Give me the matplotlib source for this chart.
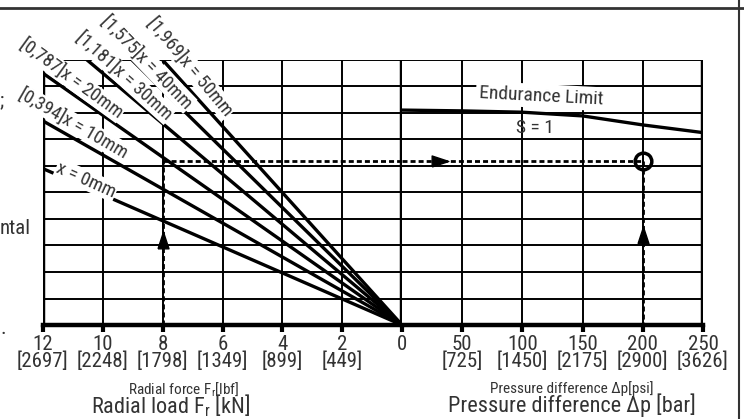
import os
import dataclasses
import matplotlib
matplotlib.use("Agg")
import matplotlib.pyplot as plt
import matplotlib.font_manager as fm
from matplotlib.lines import Line2D

# ---- pick a condensed sans face deterministically ----
def _pick_face():
    for fam in ['Roboto Condensed', 'Liberation Sans Narrow', 'Archivo Narrow', 'Asap Condensed']:
        ents = [e for e in fm.fontManager.ttflist if e.name == fam and e.style == 'normal']
        if not ents:
            continue
        def score(e):
            b = os.path.basename(e.fname).lower()
            s = abs((e.weight if isinstance(e.weight, int) else 400) - 400)
            if '[wght]' in b:
                s -= 80
            elif 'regular' in b:
                s -= 50
            for bad in ('light', 'thin', 'medium', 'bold', 'black', 'semi', 'extra', 'italic'):
                if bad in b:
                    s += 100
            return s
        return sorted(ents, key=score)[0]
    return None

_face = _pick_face()
if _face is not None:
    fm.fontManager.ttflist.append(dataclasses.replace(_face, name='ChartCond'))
    family = 'ChartCond'
else:
    family = 'DejaVu Sans'
plt.rcParams['font.family'] = [family, 'DejaVu Sans']
plt.rcParams['mathtext.fontset'] = 'custom'
plt.rcParams['mathtext.rm'] = family
plt.rcParams['mathtext.it'] = family

# ---- data ----
load_ticks = [12, 10, 8, 6, 4, 2]
load_lbf = ["2697", "2248", "1798", "1349", "899", "449"]
press_ticks = [0, 50, 100, 150, 200, 250]
press_psi = ["", "725", "1450", "2175", "2900", "3626"]

# radial load lines: value on the chart scale at Fr = 12 kN (line through origin)
offsets_mm = ["x = 0mm", "[0,394]x = 10mm", "[0,787]x = 20mm",
              "[1,181]x = 30mm", "[1,575]x = 40mm", "[1,969]x = 50mm"]
value_at_12kN = [5.9, 7.7, 9.5, 11.4, 13.3, 15.0]

# endurance limit curve S = 1
endurance_p = [0, 50, 100, 150, 200, 250]
endurance_v = [8.11, 8.08, 8.03, 7.89, 7.55, 7.26]

# example reading path
example_load = 8
example_level = 6.2
example_pressure = 200

W, H = 744, 419
fig = plt.figure(figsize=(W / 100, H / 100), dpi=100)

def fx(px):
    return px / W

def fy(py):
    return 1 - py / H

top, bot = 60, 325
axL = fig.add_axes([fx(43), fy(bot), (402 - 43) / W, (bot - top) / H])
axR = fig.add_axes([fx(402), fy(bot), (703 - 402) / W, (bot - top) / H])
axL.set_xlim(12, 0)
axR.set_xlim(0, 250)
for ax in (axL, axR):
    ax.set_ylim(0, 10)
    for s in ax.spines.values():
        s.set_visible(False)
    ax.set_yticks([])
    for yv in range(1, 11):
        ax.axhline(yv, color='black', lw=1.4, zorder=1)
    ax.axhline(0, color='black', lw=3.2, zorder=5, clip_on=False)

for xv in [10, 8, 6, 4, 2]:
    axL.axvline(xv, color='black', lw=1.4, zorder=1)
for xv in [50, 100, 150, 200]:
    axR.axvline(xv, color='black', lw=1.4, zorder=1)
axL.axvline(12, color='black', lw=3.2, zorder=5)
axL.axvline(0, color='black', lw=3.2, zorder=5)
axR.axvline(250, color='black', lw=3.2, zorder=5)

tick_color = '#333333'
axL.set_xticks(load_ticks, labels=[f"{a}\n[{b}]" for a, b in zip(load_ticks, load_lbf)])
axR.set_xticks(press_ticks, labels=[f"{a}\n[{b}]" if b else f"{a}\n" for a, b in zip(press_ticks, press_psi)])
for ax in (axL, axR):
    ax.tick_params(axis='x', direction='out', length=5, width=3, color='black',
                   labelsize=15, labelcolor=tick_color, pad=2)
    for lab in ax.get_xticklabels():
        lab.set_linespacing(0.85)

# radial load lines
for v in value_at_12kN:
    axL.plot([0, 12], [0, v], color='black', lw=2.4, zorder=4, solid_capstyle='butt')

# line labels
label_pos = [(10.56, 5.47, -24), (11.0, 7.62, -30), (11.05, 9.3, -36),
             (9.29, 9.40, -42), (8.52, 9.92, -46), (7.09, 9.74, -50)]
for txt, (lx, ly, rot) in zip(offsets_mm, label_pos):
    axL.text(lx, ly, txt, rotation=rot, rotation_mode='anchor', ha='center', va='center',
             fontsize=13.5, color=tick_color, zorder=6, clip_on=False,
             bbox=dict(boxstyle='square,pad=0.05', fc='white', ec='none'))

# endurance limit
axR.plot(endurance_p, endurance_v, color='black', lw=2.4, zorder=4)
axR.text(115.4, 8.64, "Endurance Limit", rotation=-3, ha='center', va='center',
         fontsize=14, color=tick_color, zorder=6,
         bbox=dict(boxstyle='square,pad=0.15', fc='white', ec='none'))
axR.text(110.5, 7.43, "S = 1", ha='center', va='center', fontsize=14, color=tick_color, zorder=6)

# example path
dash = (0, (1.8, 1.1))
axL.plot([example_load, example_load], [0, example_level], color='black', lw=2, ls=dash, zorder=6)
axL.plot([example_load, 0], [example_level, example_level], color='black', lw=2, ls=dash, zorder=6)
axR.plot([0, example_pressure], [example_level, example_level], color='black', lw=2, ls=dash, zorder=6)
axR.plot([example_pressure, example_pressure], [example_level, 0], color='black', lw=2, ls=dash, zorder=6)
up = [(-0.33, -0.5), (0.33, -0.5), (0, 0.5), (-0.33, -0.5)]
right = [(-0.5, -0.33), (-0.5, 0.33), (0.5, 0), (-0.5, -0.33)]
axL.plot([example_load], [3.2], marker=up, ms=12, color='black', mec='black', zorder=7)
axR.plot([example_pressure], [3.4], marker=up, ms=12, color='black', mec='black', zorder=7)
axR.plot([31.6], [example_level], marker=right, ms=12, color='black', mec='black', zorder=7)
axR.plot([example_pressure], [example_level], marker='o', ms=12, mfc='none', mec='black',
         mew=2.5, zorder=7)

# axis titles
fig.text(fx(184), fy(389), "Radial force F$_r$[lbf]", ha='center', va='center',
         fontsize=11, color=tick_color)
fig.text(fx(171), fy(406), "Radial load F$_\\mathregular{r}$ [kN]", ha='center', va='center',
         fontsize=16, color=tick_color)
fig.text(fx(572), fy(389), "Pressure difference Δp[psi]", ha='center', va='center',
         fontsize=11, color=tick_color)
fig.text(fx(572), fy(405), "Pressure difference Δp [bar]", ha='center', va='center',
         fontsize=16, color=tick_color)

# cropped neighbouring text fragments
fig.text(fx(0), fy(101), ";", ha='left', va='center', fontsize=15, color=tick_color)
fig.text(fx(0), fy(228), "ntal", ha='left', va='center', fontsize=15, color=tick_color)
fig.text(fx(1), fy(328), ".", ha='left', va='center', fontsize=15, color=tick_color)

# frame
fig.add_artist(Line2D([0, 1], [fy(8), fy(8)], transform=fig.transFigure, color='#333333', lw=2))
fig.add_artist(Line2D([fx(739), fx(739)], [0, 1], transform=fig.transFigure, color='#333333', lw=1.5))

fig.savefig("out.png", dpi=100)
